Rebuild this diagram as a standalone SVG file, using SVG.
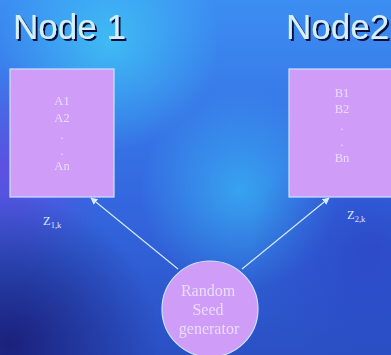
<svg xmlns="http://www.w3.org/2000/svg" width="391" height="355" viewBox="0 0 391 355">
  <defs>
    <linearGradient id="base" x1="0" y1="0" x2="0" y2="1">
      <stop offset="0" stop-color="#3c8ef2"/>
      <stop offset="0.55" stop-color="#3468e0"/>
      <stop offset="1" stop-color="#2a50c4"/>
    </linearGradient>
    <radialGradient id="glowTop" cx="110" cy="40" r="110" gradientUnits="userSpaceOnUse">
      <stop offset="0" stop-color="#40c8f6" stop-opacity="0.8"/>
      <stop offset="1" stop-color="#40c8f6" stop-opacity="0"/>
    </radialGradient>
    <radialGradient id="glowMid" cx="240" cy="190" r="100" gradientUnits="userSpaceOnUse">
      <stop offset="0" stop-color="#38b6f4" stop-opacity="0.75"/>
      <stop offset="1" stop-color="#38b6f4" stop-opacity="0"/>
    </radialGradient>
    <radialGradient id="glowLeft" cx="0" cy="170" r="110" gradientUnits="userSpaceOnUse">
      <stop offset="0" stop-color="#6a46e0" stop-opacity="0.75"/>
      <stop offset="1" stop-color="#6a46e0" stop-opacity="0"/>
    </radialGradient>
    <radialGradient id="shadeLow" cx="10" cy="345" r="150" gradientUnits="userSpaceOnUse">
      <stop offset="0" stop-color="#1a1e78" stop-opacity="0.95"/>
      <stop offset="1" stop-color="#1a1e78" stop-opacity="0"/>
    </radialGradient>
    <radialGradient id="shadeRight" cx="370" cy="250" r="120" gradientUnits="userSpaceOnUse">
      <stop offset="0" stop-color="#2a3cc0" stop-opacity="0.6"/>
      <stop offset="1" stop-color="#2a3cc0" stop-opacity="0"/>
    </radialGradient>
    <filter id="soft" x="-20%" y="-20%" width="140%" height="140%">
      <feGaussianBlur stdDeviation="0.6"/>
    </filter>
    <filter id="drop" x="-10%" y="-20%" width="130%" height="150%">
      <feDropShadow dx="2" dy="2" stdDeviation="0.4" flood-color="#08103a" flood-opacity="1"/>
    </filter>
    <marker id="arrow" viewBox="0 0 10 10" refX="9" refY="5" markerWidth="7" markerHeight="7" orient="auto" markerUnits="userSpaceOnUse">
      <path d="M0,0 L10,5 L0,10 z" fill="#d8ecff"/>
    </marker>
    <style>
      .title { font-family: "Liberation Sans", Arial, sans-serif; font-size: 35px; fill: #d4f0ff; filter: url(#drop); }
      .box { fill: #cf9cf8; stroke: #c8e4ff; stroke-width: 1.2; }
      .item { font-family: "Liberation Serif", "Times New Roman", serif; font-size: 12.5px; fill: #eadcff; text-anchor: middle; }
      .seed { font-family: "Liberation Serif", "Times New Roman", serif; font-size: 16px; fill: #eadcff; text-anchor: middle; }
      .zlabel { font-family: "Liberation Serif", "Times New Roman", serif; font-size: 12.5px; fill: #d8e8ff; }
      .zsub { font-size: 8.5px; }
      .link { stroke: #d8ecff; stroke-width: 1.1; fill: none; }
    </style>
  </defs>

  <!-- backdrop -->
  <rect width="391" height="355" fill="url(#base)"/>
  <rect width="391" height="355" fill="url(#glowLeft)"/>
  <rect width="391" height="355" fill="url(#glowTop)"/>
  <rect width="391" height="355" fill="url(#glowMid)"/>
  <rect width="391" height="355" fill="url(#shadeLow)"/>
  <rect width="391" height="355" fill="url(#shadeRight)"/>

  <!-- headings -->
  <text id="title1" class="title" x="13" y="39">Node 1</text>
  <text id="title2" class="title" x="286" y="39">Node2</text>

  <!-- connectors -->
  <g id="connectors">
    <line class="link" x1="178" y1="269" x2="91" y2="198" marker-end="url(#arrow)"/>
    <line class="link" x1="242" y1="269" x2="329" y2="198" marker-end="url(#arrow)"/>
  </g>

  <!-- node 1 -->
  <g id="node1">
    <rect class="box" x="10" y="69" width="104" height="128"/>
    <g filter="url(#soft)">
      <text class="item" x="62" y="105">A1</text>
      <text class="item" x="62" y="122">A2</text>
      <text class="item" x="62" y="139">.</text>
      <text class="item" x="62" y="155">.</text>
      <text class="item" x="62" y="170">An</text>
    </g>
  </g>
  <text class="zlabel" x="43" y="225">Z<tspan class="zsub" dy="3">1,k</tspan></text>

  <!-- node 2 -->
  <g id="node2">
    <rect class="box" x="289" y="69" width="106" height="128"/>
    <g filter="url(#soft)">
      <text class="item" x="342" y="97">B1</text>
      <text class="item" x="342" y="113">B2</text>
      <text class="item" x="342" y="130">.</text>
      <text class="item" x="342" y="146">.</text>
      <text class="item" x="342" y="162">Bn</text>
    </g>
  </g>
  <text class="zlabel" x="347" y="219">Z<tspan class="zsub" dy="3">2,k</tspan></text>

  <!-- seed source -->
  <g id="seed">
    <circle cx="210" cy="309" r="48" fill="#cf9cf8" stroke="#c8e4ff" stroke-width="1.2"/>
    <g filter="url(#soft)">
      <text class="seed" x="208" y="296">Random</text>
      <text class="seed" x="208" y="315">Seed</text>
      <text class="seed" x="209" y="334">generator</text>
    </g>
  </g>
</svg>
